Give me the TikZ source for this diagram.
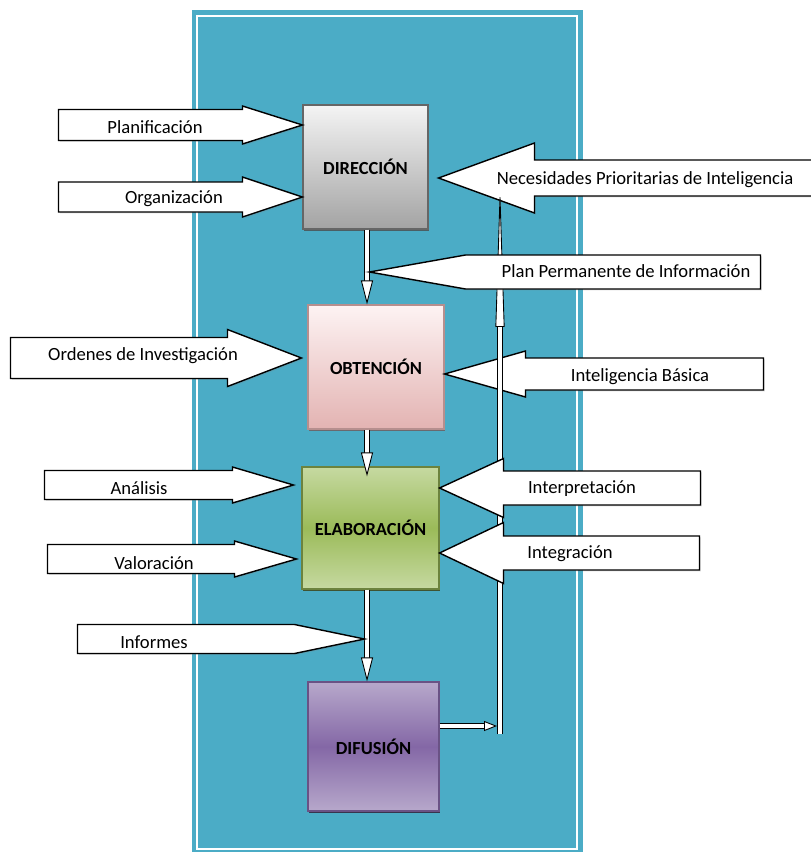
\documentclass[tikz,border=0pt]{standalone}
\usepackage{fontspec}
\setmainfont{Carlito}
\usetikzlibrary{arrows.meta, shadows, calc}
\definecolor{panel}{HTML}{4BACC6}
\definecolor{grayhi}{HTML}{F4F4F4}
\definecolor{graylo}{HTML}{A3A3A3}
\definecolor{pinkhi}{HTML}{FDF3F3}
\definecolor{pinklo}{HTML}{E3B3B2}
\definecolor{greenhi}{HTML}{C6D9A1}
\definecolor{greenlo}{HTML}{9BBB59}
\definecolor{violethi}{HTML}{B7A8CB}
\definecolor{violetlo}{HTML}{8467A6}
\tikzstyle{stage} = [rectangle, line width=0.6pt, text centered,
font=\bfseries\fontsize{10.5}{12}\selectfont]
\tikzstyle{bigarrow} = [draw=black, fill=white, line width=0.8pt,
drop shadow={shadow xshift=0.8pt, shadow yshift=-0.8pt, opacity=0.25}]
\tikzstyle{tag} = [font=\fontsize{10.6}{12}\selectfont, inner sep=0pt]
\tikzstyle{flow} = [draw=black, line width=0.5pt, double=white,
double distance=2.4pt]
% block arrow: tip, head length, body length, body half, head half
\newcommand{\blockarrow}[5]{%
\draw[bigarrow] (#1) -- ++({-(#2)},{-(#5)}) -- ++(0,{(#5)-(#4)})
-- ++({-(#3)},0) -- ++(0,{2*(#4)}) -- ++({#3},0)
-- ++(0,{(#5)-(#4)}) -- cycle;}

\begin{document}
\begin{tikzpicture}[x=0.02cm, y=-0.02cm]
\useasboundingbox (0,0) rectangle (811,852);
% background panel
\fill[panel] (192,10) rectangle (583,852);
\draw[white, line width=1.4pt] (197,16) rectangle (577,849);
% the four stages
\node (dir) [stage, draw=gray!80!black, top color=grayhi, bottom color=graylo,
minimum width=125*0.02cm, minimum height=124*0.02cm,
drop shadow={shadow xshift=0.6pt, shadow yshift=-1.2pt, fill=gray!60!black, opacity=0.8}]
at (365.5,167) {DIRECCIÓN};
\node (obt) [stage, draw=pinklo!80!black, top color=pinkhi, bottom color=pinklo,
minimum width=136*0.02cm, minimum height=124*0.02cm,
drop shadow={shadow xshift=0.6pt, shadow yshift=-1.2pt, fill=pinklo!50!black, opacity=0.8}]
at (376,367) {OBTENCIÓN};
\node (elab) [stage, draw=greenlo!70!black, top color=greenhi, bottom color=greenhi,
middle color=greenlo, minimum width=137*0.02cm, minimum height=122*0.02cm,
drop shadow={shadow xshift=0.6pt, shadow yshift=-1.2pt, fill=greenlo!40!black, opacity=0.9}]
at (370.5,528) {ELABORACIÓN};
\node (dif) [stage, draw=violetlo!80!black, top color=violethi, bottom color=violethi,
middle color=violetlo, minimum width=131*0.02cm, minimum height=129*0.02cm,
drop shadow={shadow xshift=0.6pt, shadow yshift=-1.2pt, fill=violetlo!40!black, opacity=0.9}]
at (373.5,746.5) {DIFUSIÓN};
% flow between stages
\draw[flow, -{Triangle[length=0.48cm, width=0.24cm, fill=white]}]
(dir.south -| 367,0) -- (obt.north -| 367,0);
\draw[flow, -{Triangle[length=0.48cm, width=0.24cm, fill=white]}, shorten >=-0.2cm]
(obt.south -| 367,0) -- (elab.north -| 367,0);
\draw[flow, -{Triangle[length=0.48cm, width=0.24cm, fill=white]}]
(elab.south -| 367,0) -- (dif.north -| 367,0);
\coordinate (fbbot) at (500,734);
\coordinate (fbtop) at (500,183);
\draw[flow, -{Triangle[length=0.26cm, width=0.2cm, fill=white]}]
(dif.east |- 0,726) -- ($(fbbot |- 0,726)+(-3,0)$);
% inputs
\blockarrow{dir.west |- 0,125}{60}{184}{15.5}{19}
\blockarrow{dir.west |- 0,197}{60}{184}{15}{20}
\blockarrow{$(dir.east |- 0,178)+(10,0)$}{-96}{-300}{18}{35}
\blockarrow{$(obt.west |- 0,358)+(-6,0)$}{74}{217}{20.5}{28.5}
\blockarrow{obt.east |- 0,374}{-81}{-238}{16}{23}
\blockarrow{$(elab.west |- 0,485)+(-8,0)$}{61}{188}{14.5}{18}
\blockarrow{$(elab.west |- 0,559)+(-5,0)$}{62}{187}{14.5}{18}
\blockarrow{$(elab.south |- 0,639)+(-6,0)$}{70}{217}{14.5}{14.5}
% feedback to the top
\draw[flow, -{Triangle[length=2.88cm, width=0.18cm, fill=white]}] (fbbot) -- (fbtop);
\blockarrow{elab.east |- 0,488}{-64}{-197}{17}{29.5}
\blockarrow{elab.east |- 0,553}{-64}{-196}{17}{30.5}
\blockarrow{$(dir.south |- 0,272)+(4,0)$}{-96}{-295}{17}{17}
% labels
\node[tag] (planif) at (155,127) {Planificación};
\node[tag] (organiz) at (174,199) {Organización};
\node[tag] (necesid) at (645,180) {Necesidades Prioritarias de Inteligencia};
\node[tag] (planperm) at (626,271) {Plan Permanente de Información};
\node[tag] (ordenes) at (143,356) {Ordenes de Investigación};
\node[tag] (intbas) at (640,377) {Inteligencia Básica};
\node[tag] (analis) at (139,488) {Análisis};
\node[tag] (valor) at (154,563) {Valoración};
\node[tag] (interp) at (582,489) {Interpretación};
\node[tag] (integr) at (570,554) {Integración};
\node[tag] (inform) at (154,642) {Informes};
\end{tikzpicture}
\end{document}
